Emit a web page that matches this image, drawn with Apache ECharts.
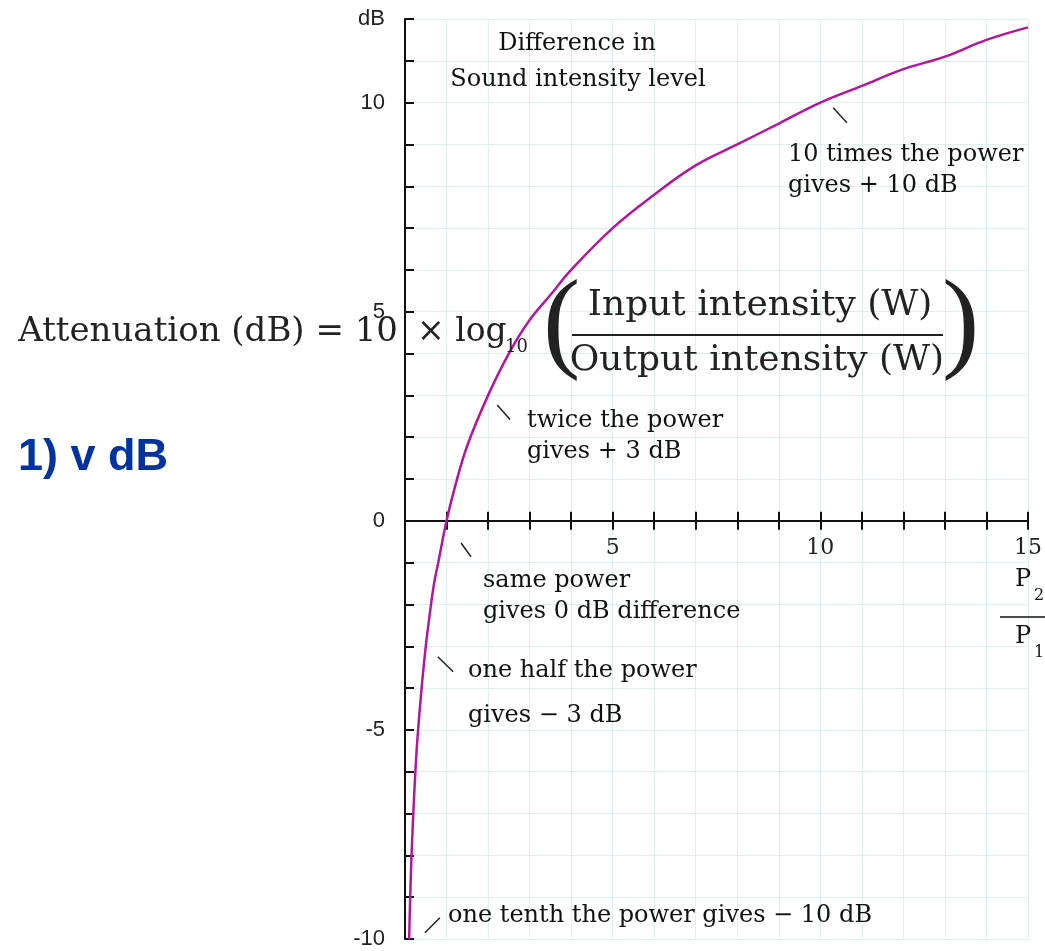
<!DOCTYPE html>
<html>
<head>
<meta charset="utf-8">
<script src="https://cdn.jsdelivr.net/npm/echarts@6/dist/echarts.min.js"></script>
<style>
  html, body { margin: 0; padding: 0; background: #fff; }
  #chart { width: 1045px; height: 951px; }
</style>
</head>
<body>
<div id="chart"></div>
<script>
// power ratio P2/P1 and level difference in dB
const ratio = [0.1, 0.12, 0.15, 0.2, 0.25, 0.3, 0.4, 0.5, 0.6, 0.7, 0.8, 1, 1.2, 1.5, 2, 2.5, 3, 3.5, 4, 5, 6, 7, 8, 9, 10, 11, 12, 13, 14, 15];
const levelDb = [-10, -9.2, -8.2, -7, -6, -5.2, -4, -3, -2.2, -1.5, -1, 0, 0.8, 1.8, 3, 4, 4.8, 5.4, 6, 7, 7.8, 8.5, 9, 9.5, 10, 10.4, 10.8, 11.1, 11.5, 11.8];

const xTickLabels = [5, 10, 15];
const yTickLabels = [-10, -5, 0, 5, 10];

// short leader strokes next to the notes, in data units
const leaders = [
  [[10.31, 9.88], [10.64, 9.52]],
  [[2.22, 2.77], [2.53, 2.42]],
  [[1.35, -0.53], [1.59, -0.86]],
  [[0.79, -3.25], [1.16, -3.61]],
  [[0.48, -9.85], [0.84, -9.49]]
];

const notes = [
  ['Difference in', 577, 44, 'center'],
  ['Sound intensity level', 578, 80, 'center'],
  ['10 times the power', 788, 155, 'left'],
  ['gives + 10 dB', 788, 186, 'left'],
  ['twice the power', 527, 421, 'left'],
  ['gives + 3 dB', 527, 452, 'left'],
  ['same power', 483, 581, 'left'],
  ['gives 0 dB difference', 483, 612, 'left'],
  ['one half the power', 468, 671, 'left'],
  ['gives \u2212 3 dB', 468, 716, 'left'],
  ['one tenth the power gives \u2212 10 dB', 448, 916, 'left']
];

const noteFont = '24px "DejaVu Serif"';
const mathFont = '36px "DejaVu Serif"';

function txt(text, x, y, font, align, fill) {
  return {
    type: 'text', z: 100,
    style: {
      text: text, x: x, y: y, font: font, fill: fill || '#111',
      align: align || 'left', verticalAlign: 'middle',
      textAlign: align || 'left', textVerticalAlign: 'middle'
    }
  };
}

const graphics = notes.map(n => txt(n[0], n[1], n[2], noteFont, n[3]));

// formula overlay
graphics.push(txt('Attenuation (dB) = 10', 398, 332, '34px "DejaVu Serif"', 'right', '#222'));
graphics.push(txt('\u00d7 log', 417, 332, '33px "DejaVu Serif"', 'left', '#222'));
graphics.push(txt('10', 505, 347, '18px "DejaVu Serif"', 'left', '#222'));
graphics.push(txt('(', 543, 328, '112px "Liberation Serif"', 'left', '#222'));
graphics.push(txt('Input intensity (W)', 760, 306, mathFont, 'center', '#222'));
graphics.push({ type: 'line', z: 100, shape: { x1: 572, y1: 335, x2: 943, y2: 335 }, style: { stroke: '#222', lineWidth: 2 } });
graphics.push(txt('Output intensity (W)', 757, 361, mathFont, 'center', '#222'));
graphics.push(txt(')', 942, 328, '112px "Liberation Serif"', 'left', '#222'));

// P2 / P1 axis title
graphics.push(txt('P', 1015, 580, '24px "DejaVu Serif"', 'left'));
graphics.push(txt('2', 1034, 596, '16px "DejaVu Serif"', 'left'));
graphics.push({ type: 'line', z: 100, shape: { x1: 1000, y1: 617, x2: 1045, y2: 617 }, style: { stroke: '#111', lineWidth: 1.5 } });
graphics.push(txt('P', 1015, 637, '24px "DejaVu Serif"', 'left'));
graphics.push(txt('1', 1034, 653, '16px "DejaVu Serif"', 'left'));

// cut-off slide heading
graphics.push(txt('1) v dB', 168, 458, 'bold 45px "Liberation Sans"', 'right', '#0033a0'));

const gridLine = { show: true, lineStyle: { color: '#dcf0ef', width: 1 } };
const axisStroke = { color: '#111', width: 2 };
const gridBox = { left: 405, right: 17, top: 19, bottom: 12, containLabel: false, outerBoundsMode: 'none' };

const option = {
  animation: false,
  backgroundColor: '#fff',
  // second, identical grid only carries the upward half of the x ticks
  grid: [gridBox, Object.assign({}, gridBox)],
  xAxis: [
    {
      type: 'value', gridIndex: 0, min: 0, max: 15, interval: 1,
      axisLine: { onZero: true, lineStyle: axisStroke },
      axisTick: { show: true, length: 9, lineStyle: axisStroke },
      axisLabel: { show: false },
      splitLine: gridLine
    },
    {
      type: 'value', gridIndex: 1, min: 0, max: 15, interval: 1,
      axisLine: { onZero: true, lineStyle: axisStroke },
      axisTick: { show: true, inside: true, length: 9, lineStyle: axisStroke },
      axisLabel: { show: false },
      splitLine: { show: false }
    }
  ],
  yAxis: [
    {
      type: 'value', gridIndex: 0, min: -10, max: 12, interval: 1,
      axisLine: { show: true, lineStyle: axisStroke },
      axisTick: { show: true, inside: true, length: 9, lineStyle: axisStroke },
      axisLabel: {
        margin: 20, color: '#222', fontFamily: 'Liberation Sans', fontSize: 22,
        formatter: v => v === 12 ? 'dB' : (yTickLabels.indexOf(v) >= 0 ? String(v) : '')
      },
      splitLine: gridLine
    },
    {
      type: 'value', gridIndex: 1, min: -10, max: 12, interval: 1,
      axisLine: { show: false }, axisTick: { show: false },
      axisLabel: { show: false }, splitLine: { show: false }
    }
  ],
  series: [{
    type: 'line',
    xAxisIndex: 0,
    yAxisIndex: 0,
    data: ratio.map((r, i) => [r, levelDb[i]]),
    smooth: 0.4,
    showSymbol: false,
    z: 5,
    lineStyle: { color: '#b0189c', width: 2.5 },
    markLine: {
      silent: true, symbol: 'none', label: { show: false },
      lineStyle: { color: '#222', width: 1.5, type: 'solid' },
      data: leaders.map(l => [{ coord: l[0] }, { coord: l[1] }])
    },
    // x tick labels hang under the zero line, so they ride on the axis here
    markPoint: {
      silent: true, symbol: 'circle', symbolSize: 0,
      label: {
        show: true, position: 'inside', offset: [0, 27],
        color: '#222', fontFamily: 'DejaVu Serif', fontSize: 22,
        formatter: p => String(p.data.coord[0])
      },
      data: xTickLabels.map(v => ({ coord: [v, 0] }))
    }
  }],
  graphic: graphics
};

const chart = echarts.init(document.getElementById('chart'));
chart.setOption(option);
</script>
</body>
</html>
